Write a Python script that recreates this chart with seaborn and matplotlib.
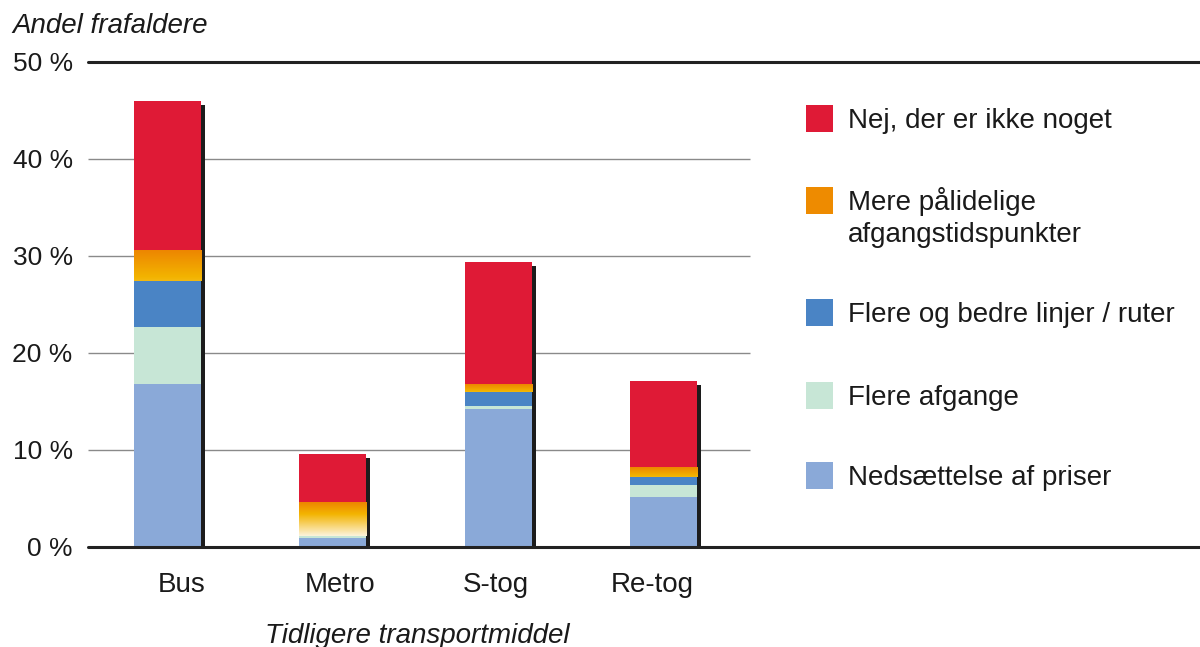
import matplotlib
matplotlib.use("Agg")
import matplotlib.pyplot as plt
import matplotlib.transforms as mtransforms
from matplotlib.patches import Rectangle
from matplotlib.colors import LinearSegmentedColormap
import seaborn as sns
import numpy as np
import pandas as pd

# data (andel frafaldere i %)
categories = ["Bus", "Metro", "S-tog", "Re-tog"]
priser = [16.8, 0.9, 14.2, 5.2]          # Nedsættelse af priser
afgange = [5.9, 0.25, 0.3, 1.2]          # Flere afgange
linjer = [4.7, 0.0, 1.5, 0.8]            # Flere og bedre linjer / ruter
palidelige = [3.1, 3.5, 0.8, 1.0]        # Mere pålidelige afgangstidspunkter
nej = [15.5, 4.9, 12.6, 8.95]            # Nej, der er ikke noget

legend_labels = ["Nej, der er ikke noget",
                 "Mere pålidelige\nafgangstidspunkter",
                 "Flere og bedre linjer / ruter",
                 "Flere afgange",
                 "Nedsættelse af priser"]

c_nej = "#DF1A36"
c_pal = "#EE8B00"
c_lin = "#4A84C5"
c_afg = "#C7E6D6"
c_pri = "#8AA9D8"
legend_colors = [c_nej, c_pal, c_lin, c_afg, c_pri]
txt = "#1a1a1a"

df = pd.DataFrame({"kat": categories, "priser": priser, "afgange": afgange,
                   "linjer": linjer, "palidelige": palidelige, "nej": nej})
df["c1"] = df["priser"]
df["c2"] = df["c1"] + df["afgange"]
df["c3"] = df["c2"] + df["linjer"]
df["c4"] = df["c3"] + df["palidelige"]
df["c5"] = df["c4"] + df["nej"]

sns.set_style("white")
plt.rcParams["font.family"] = ["Liberation Sans", "DejaVu Sans"]

W, H = 1200, 647
fig, ax = plt.subplots(figsize=(12, 6.47), dpi=100)
fig.subplots_adjust(left=88 / W, right=1.0, bottom=100 / H, top=1 - 62 / H)

bw = 0.405

# shadow behind bars
n0 = len(ax.patches)
sns.barplot(data=df, x="kat", y="c5", order=categories, color="#1c1c1c",
            saturation=1, width=bw, linewidth=0, edgecolor="none", ax=ax)
off = mtransforms.ScaledTranslation(4 / 100, -4 / 100, fig.dpi_scale_trans)
for p in ax.patches[n0:]:
    p.set_transform(ax.transData + off)
    p.set_zorder(2)

layers = [("c5", c_nej, 2.1), ("c4", c_pal, 2.2), ("c3", c_lin, 2.4),
          ("c2", c_afg, 2.5), ("c1", c_pri, 2.6)]
orange_bars = []
for col, c, z in layers:
    n0 = len(ax.patches)
    sns.barplot(data=df, x="kat", y=col, order=categories, color=c,
                saturation=1, width=bw, linewidth=0, edgecolor="none", ax=ax)
    for p in ax.patches[n0:]:
        p.set_zorder(z)
    if col == "c4":
        orange_bars = list(ax.patches[n0:])

# gradient on the orange segment
grad_cmap = LinearSegmentedColormap.from_list(
    "pal", [(0, "#ED8600"), (0.35, "#F3B400"), (1, "#FCF3DC")])
grad_end = [0.4, 1.0, 0.4, 0.4]
for i, p in enumerate(orange_bars):
    y0, y1 = df["c3"][i], df["c4"][i]
    g = np.linspace(0, grad_end[i], 100).reshape(-1, 1)
    ax.imshow(g, cmap=grad_cmap, vmin=0, vmax=1, aspect="auto",
              extent=[p.get_x(), p.get_x() + p.get_width(), y0, y1],
              origin="upper", zorder=2.3, interpolation="bilinear")

ax.set_xlim(-0.48, 6.24)
ax.set_ylim(0, 50)

# grid
ax.hlines([10, 20, 30, 40], -0.48, 3.52, color="#8a8a8a", lw=1.0, zorder=1)
ax.axhline(50, color="#222222", lw=2.2, zorder=4, clip_on=False)
ax.axhline(0, color="#222222", lw=2.2, zorder=4, clip_on=False)

sns.despine(ax=ax, left=True, bottom=True)

yt = [0, 10, 20, 30, 40, 50]
ax.set_yticks(yt)
ax.set_yticklabels([f"{v} %" for v in yt])
ax.tick_params(axis="y", length=0, pad=11, labelsize=19, labelcolor=txt)
label_pos = [0.088, 1.042, 1.985, 2.928]
ax.set_xticks(label_pos)
ax.set_xticklabels(categories)
ax.tick_params(axis="x", length=0, pad=18, labelsize=20, labelcolor=txt)
ax.set_xlabel("")
ax.set_ylabel("")

fig.text(12 / W, 1 - 33 / H, "Andel frafaldere", style="italic",
         fontsize=20, color=txt, va="baseline")
fig.text(417 / W, 1 - 643 / H, "Tidligere transportmiddel", style="italic",
         fontsize=20, color=txt, va="baseline", ha="center")

# legend
baselines = [128, 210, 322, 405, 485]
for lab, c, b in zip(legend_labels, legend_colors, baselines):
    fig.add_artist(Rectangle((806 / W, 1 - (b + 4) / H), 27 / W, 27 / H,
                             transform=fig.transFigure, color=c, lw=0))
    for k, line in enumerate(lab.split("\n")):
        fig.text(848 / W, 1 - (b + 32 * k) / H, line, fontsize=20,
                 color=txt, va="baseline")

plt.savefig("out.png", dpi=100)
